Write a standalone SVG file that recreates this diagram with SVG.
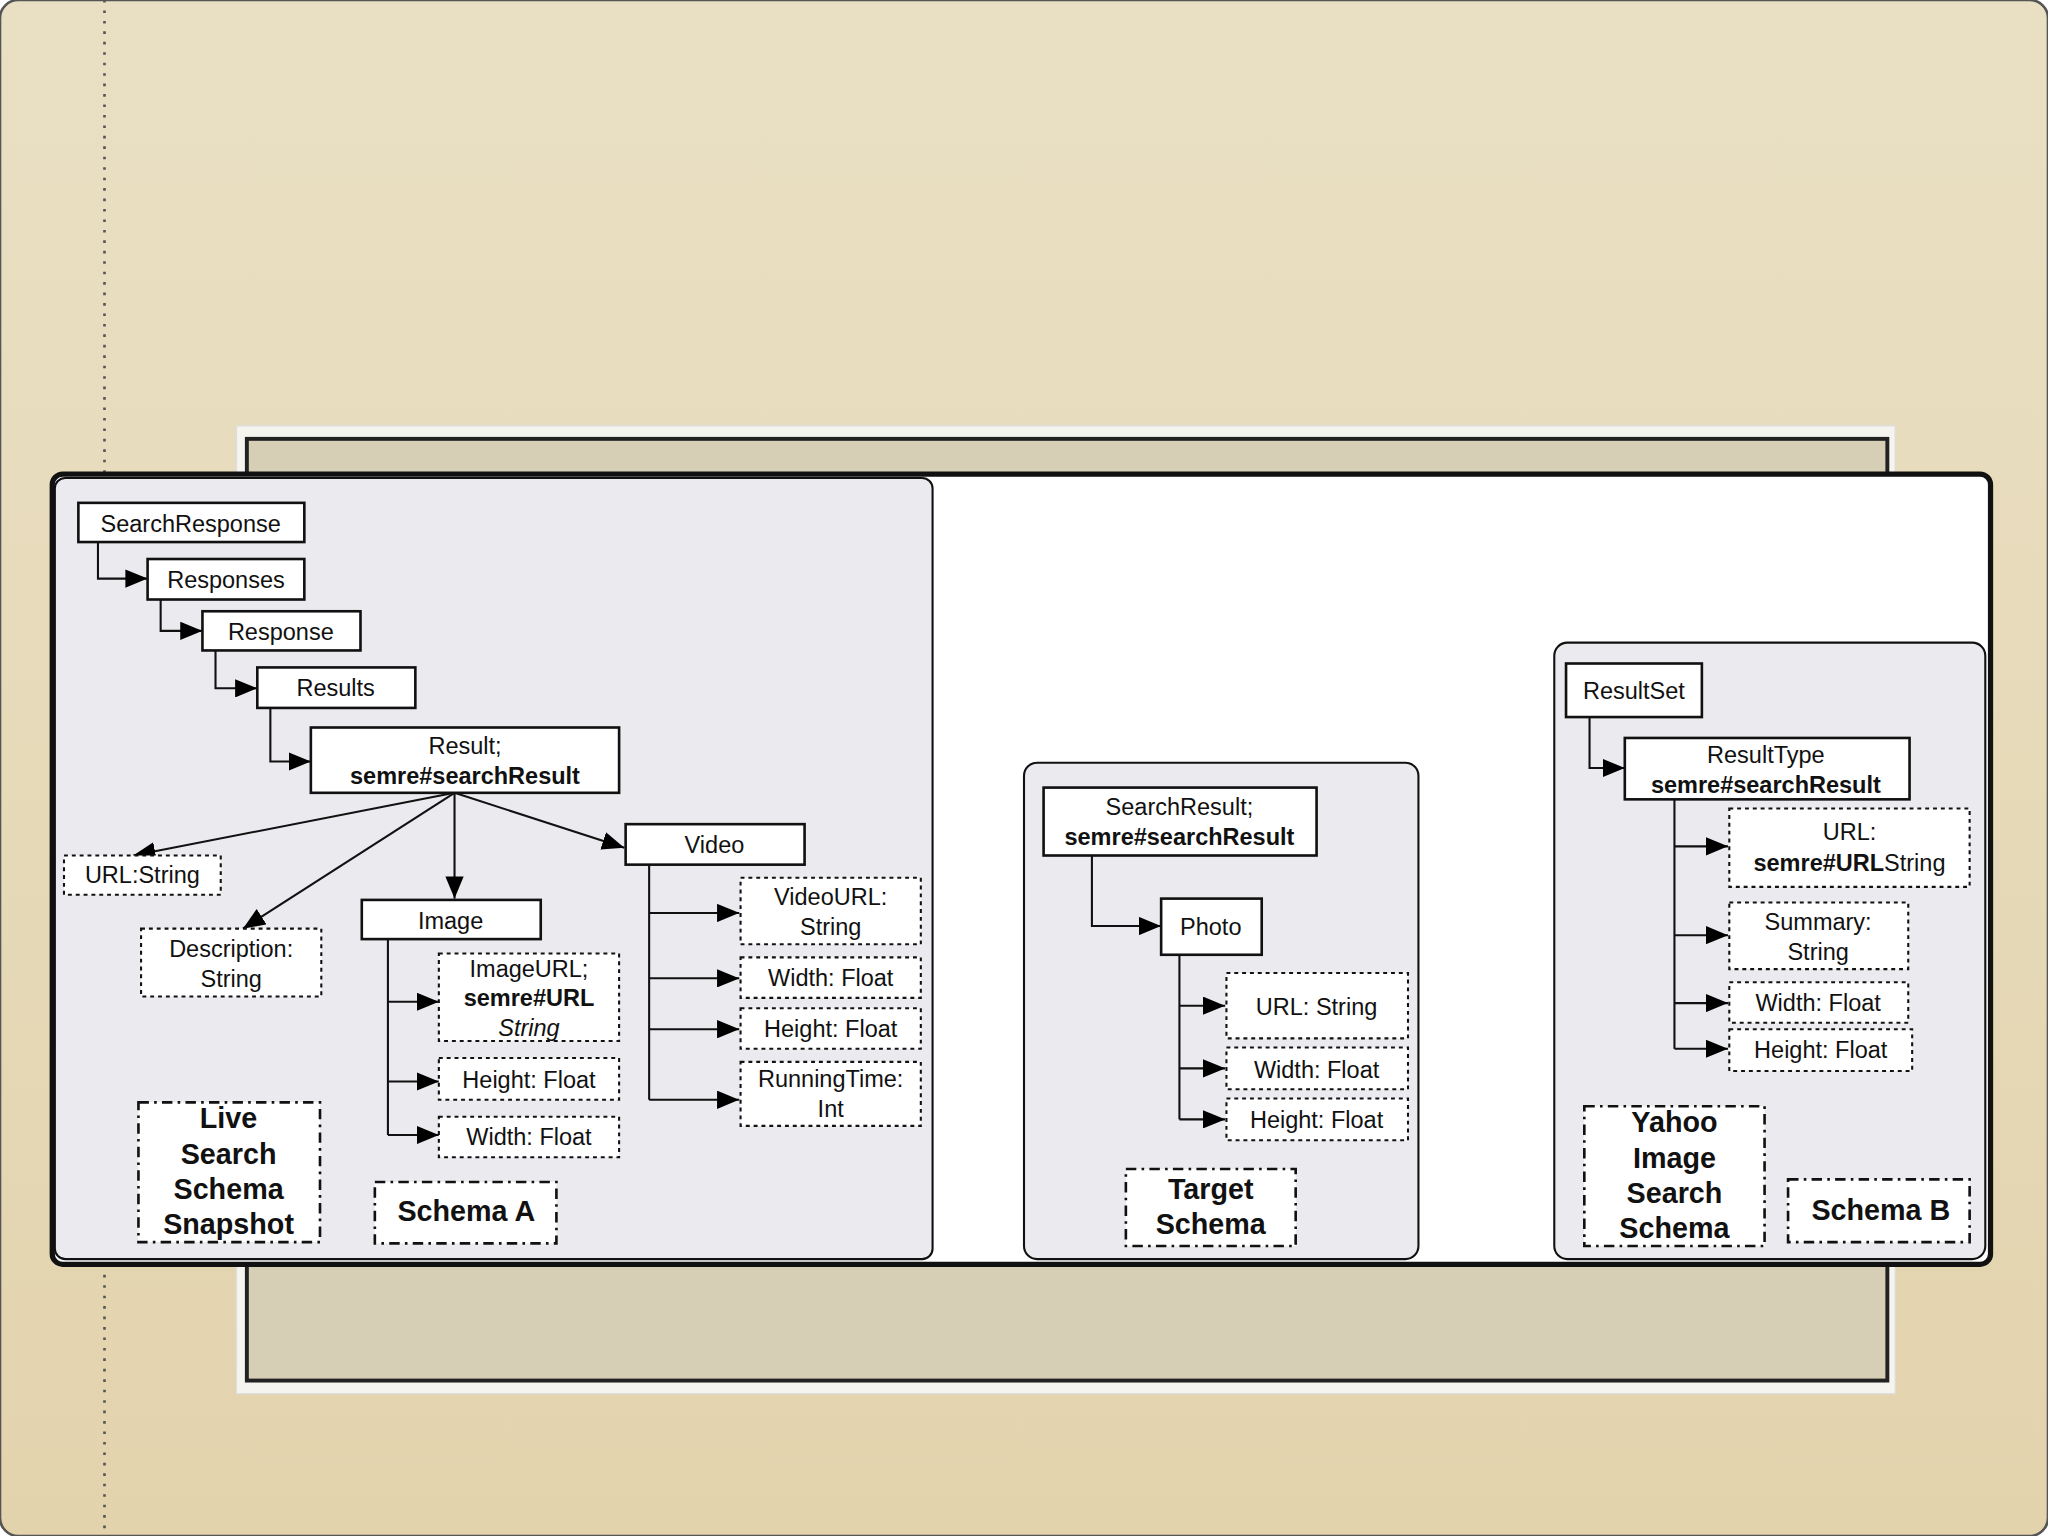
<svg xmlns="http://www.w3.org/2000/svg" width="2048" height="1536" viewBox="0 0 2048 1536">
<defs>
<linearGradient id="bg" x1="0" y1="0" x2="0" y2="1"><stop offset="0" stop-color="#e9dfc3"/><stop offset="0.5" stop-color="#e6dab9"/><stop offset="1" stop-color="#e3d3ad"/></linearGradient>
<marker id="ar" viewBox="0 0 10 10" refX="10" refY="5" markerWidth="17" markerHeight="14" markerUnits="userSpaceOnUse" orient="auto" preserveAspectRatio="none"><path d="M0,0 L10,5 L0,10 z" fill="#000"/></marker>
<style>
text{font-family:"Liberation Sans",Arial,sans-serif;font-size:18px;text-anchor:middle;fill:#111}
.b{font-weight:bold}
.lb{font-weight:bold;font-size:22px}
.n{fill:#fff;stroke:#111;stroke-width:2}
.d{fill:#fff;stroke:#111;stroke-width:1.6;stroke-dasharray:3,3}
.l{fill:#fff;stroke:#111;stroke-width:2;stroke-dasharray:8,4,2,4}
.p{fill:#ebeaee;stroke:#111;stroke-width:1.6}
.c path,.c line{fill:none;stroke:#111;stroke-width:1.6;marker-end:url(#ar)}
</style>
</defs>
<g transform="scale(1.30612)">
<rect x="0" y="0" width="1568" height="1176" rx="14" fill="url(#bg)" stroke="#555" stroke-width="2"/>
<line x1="80" y1="0" x2="80" y2="1176" stroke="#555" stroke-width="2" stroke-dasharray="2,6"/>
<rect x="181" y="326" width="1270" height="741" fill="#f6f4ee" stroke="#ddd"/>
<rect x="189" y="336" width="1256" height="721" fill="#d7ceb6" stroke="#222" stroke-width="3"/>
<rect x="40" y="363" width="1484" height="605" rx="8" fill="#fff" stroke="#111" stroke-width="4"/>
<rect class="p" x="42" y="366" width="672" height="598" rx="8"/>
<rect class="p" x="784" y="584" width="302" height="380" rx="10"/>
<rect class="p" x="1190" y="492" width="330" height="472" rx="10"/>

<g class="c" id="connectors">
<path d="M75,415 V443 H113"/>
<path d="M123,459 V483 H155"/>
<path d="M165,498 V527 H197"/>
<path d="M207,542 V583 H238"/>
<line x1="348" y1="607" x2="102" y2="655"/>
<line x1="348" y1="607" x2="186" y2="711"/>
<line x1="348" y1="607" x2="348" y2="688"/>
<line x1="348" y1="607" x2="478" y2="649"/>
<path d="M297,719 V869" style="marker-end:none"/>
<line x1="297" y1="767" x2="336" y2="767"/>
<line x1="297" y1="828" x2="336" y2="828"/>
<line x1="297" y1="869" x2="336" y2="869"/>
<path d="M497,662 V842" style="marker-end:none"/>
<line x1="497" y1="699" x2="566" y2="699"/>
<line x1="497" y1="749" x2="566" y2="749"/>
<line x1="497" y1="788" x2="566" y2="788"/>
<line x1="497" y1="842" x2="566" y2="842"/>
<path d="M836,655 V709 H889"/>
<path d="M903,731 V857" style="marker-end:none"/>
<line x1="903" y1="770" x2="938" y2="770"/>
<line x1="903" y1="818" x2="938" y2="818"/>
<line x1="903" y1="857" x2="938" y2="857"/>
<path d="M1217,549 V588 H1244"/>
<path d="M1282,612 V803" style="marker-end:none"/>
<line x1="1282" y1="648" x2="1323" y2="648"/>
<line x1="1282" y1="716" x2="1323" y2="716"/>
<line x1="1282" y1="768" x2="1323" y2="768"/>
<line x1="1282" y1="803" x2="1323" y2="803"/>
</g>

<g id="searchresponse"><rect class="n" x="60" y="385" width="173" height="30"/><text x="146" y="407">SearchResponse</text></g>
<g id="responses"><rect class="n" x="113" y="428" width="120" height="31"/><text x="173" y="450">Responses</text></g>
<g id="response"><rect class="n" x="155" y="468" width="121" height="30"/><text x="215" y="490">Response</text></g>
<g id="results"><rect class="n" x="197" y="511" width="121" height="31"/><text x="257" y="533">Results</text></g>
<g id="result"><rect class="n" x="238" y="557" width="236" height="50"/><text x="356" y="577">Result;</text><text class="b" x="356" y="600">semre#searchResult</text></g>
<g id="urlstring"><rect class="d" x="49" y="655" width="120" height="30"/><text x="109" y="676">URL:String</text></g>
<g id="description"><rect class="d" x="108" y="711" width="138" height="52"/><text x="177" y="733">Description:</text><text x="177" y="756">String</text></g>
<g id="image"><rect class="n" x="277" y="689" width="137" height="30"/><text x="345" y="711">Image</text></g>
<g id="video"><rect class="n" x="479" y="631" width="137" height="31"/><text x="547" y="653">Video</text></g>
<g id="imageurl"><rect class="d" x="336" y="730" width="138" height="67"/><text x="405" y="748">ImageURL;</text><text class="b" x="405" y="770">semre#URL</text><text x="405" y="793" font-style="italic">String</text></g>
<g id="iheight"><rect class="d" x="336" y="810" width="138" height="32"/><text x="405" y="833">Height: Float</text></g>
<g id="iwidth"><rect class="d" x="336" y="855" width="138" height="31"/><text x="405" y="877">Width: Float</text></g>
<g id="videourl"><rect class="d" x="567" y="672" width="138" height="51"/><text x="636" y="693">VideoURL:</text><text x="636" y="716">String</text></g>
<g id="vwidth"><rect class="d" x="567" y="733" width="138" height="31"/><text x="636" y="755">Width: Float</text></g>
<g id="vheight"><rect class="d" x="567" y="772" width="138" height="31"/><text x="636" y="794">Height: Float</text></g>
<g id="running"><rect class="d" x="567" y="813" width="138" height="49"/><text x="636" y="832">RunningTime:</text><text x="636" y="855">Int</text></g>
<g id="livelabel"><rect class="l" x="106" y="844" width="139" height="107"/><text class="lb" x="175" y="864">Live</text><text class="lb" x="175" y="891">Search</text><text class="lb" x="175" y="918">Schema</text><text class="lb" x="175" y="945">Snapshot</text></g>
<g id="schemaA"><rect class="l" x="287" y="905" width="139" height="47"/><text class="lb" x="357" y="935">Schema A</text></g>

<g id="searchresult"><rect class="n" x="799" y="603" width="209" height="52"/><text x="903" y="624">SearchResult;</text><text class="b" x="903" y="647">semre#searchResult</text></g>
<g id="photo"><rect class="n" x="889" y="688" width="77" height="43"/><text x="927" y="716">Photo</text></g>
<g id="turl"><rect class="d" x="939" y="745" width="139" height="50"/><text x="1008" y="777">URL: String</text></g>
<g id="twidth"><rect class="d" x="939" y="802" width="139" height="32"/><text x="1008" y="825">Width: Float</text></g>
<g id="theight"><rect class="d" x="939" y="841" width="139" height="32"/><text x="1008" y="864">Height: Float</text></g>
<g id="targetlabel"><rect class="l" x="862" y="895" width="130" height="59"/><text class="lb" x="927" y="918">Target</text><text class="lb" x="927" y="945">Schema</text></g>

<g id="resultset"><rect class="n" x="1199" y="508" width="104" height="41"/><text x="1251" y="535">ResultSet</text></g>
<g id="resulttype"><rect class="n" x="1244" y="565" width="218" height="47"/><text x="1352" y="584">ResultType</text><text class="b" x="1352" y="607">semre#searchResult</text></g>
<g id="burl"><rect class="d" x="1324" y="619" width="184" height="60"/><text x="1416" y="643">URL:</text><text x="1416" y="667"><tspan class="b">semre#URL</tspan>String</text></g>
<g id="summary"><rect class="d" x="1324" y="691" width="137" height="51"/><text x="1392" y="712">Summary:</text><text x="1392" y="735">String</text></g>
<g id="bwidth"><rect class="d" x="1324" y="752" width="137" height="31"/><text x="1392" y="774">Width: Float</text></g>
<g id="bheight"><rect class="d" x="1324" y="788" width="140" height="32"/><text x="1394" y="810">Height: Float</text></g>
<g id="yahoolabel"><rect class="l" x="1213" y="847" width="138" height="107"/><text class="lb" x="1282" y="867">Yahoo</text><text class="lb" x="1282" y="894">Image</text><text class="lb" x="1282" y="921">Search</text><text class="lb" x="1282" y="948">Schema</text></g>
<g id="schemaB"><rect class="l" x="1369" y="903" width="139" height="48"/><text class="lb" x="1440" y="934">Schema B</text></g>
</g>
</svg>
